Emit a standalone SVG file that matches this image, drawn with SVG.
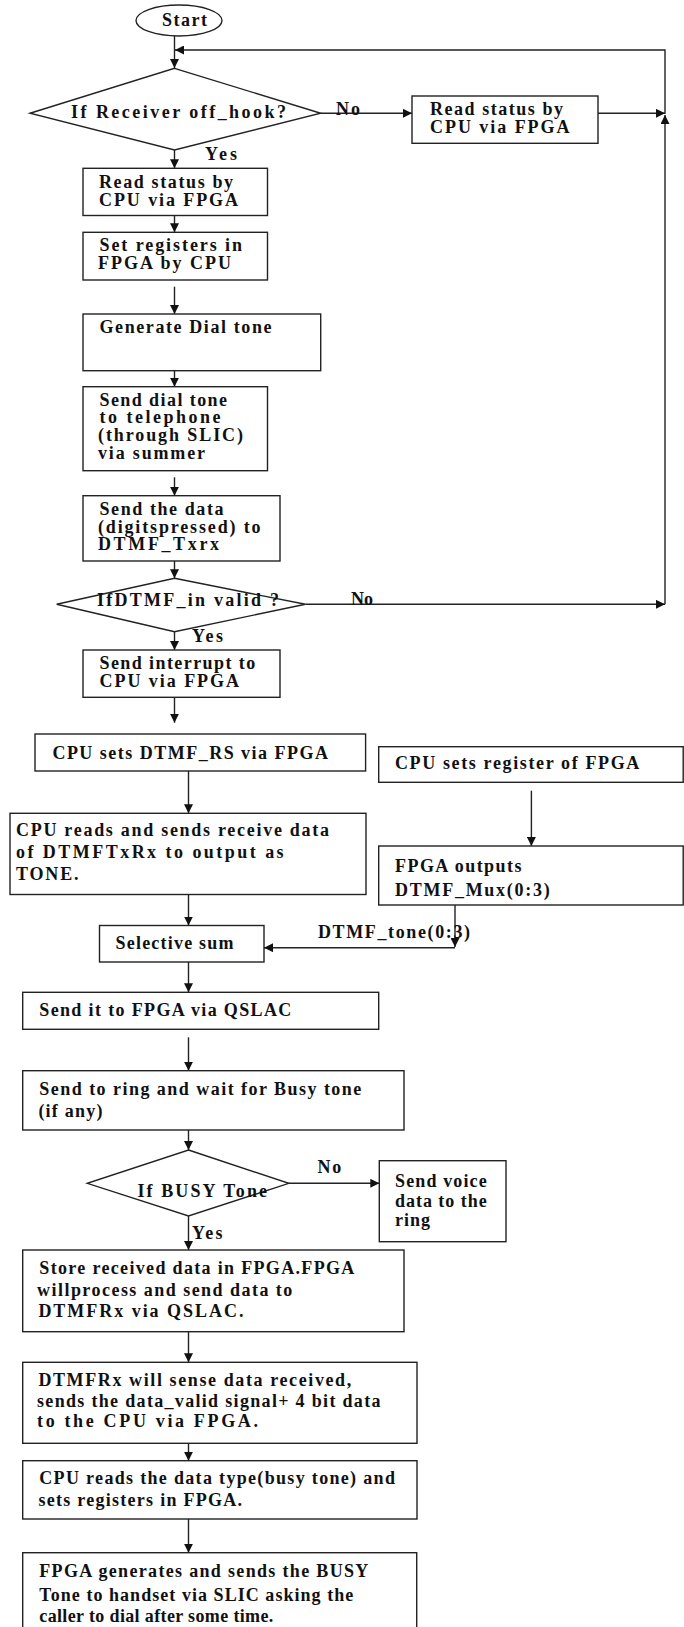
<svg xmlns="http://www.w3.org/2000/svg" width="684" height="1627" viewBox="0 0 684 1627">
  <defs>
    <style>
      .box { fill: #ffffff; stroke: #222222; stroke-width: 1.4; }
      .wire { fill: none; stroke: #222222; stroke-width: 1.4; }
      .t { font-family: "Liberation Serif", "Times New Roman", serif; font-weight: bold; font-size: 18px; fill: #111111; }
    </style>
    <marker id="arrow" markerUnits="userSpaceOnUse" markerWidth="10" markerHeight="9" refX="9" refY="4.5" orient="auto">
      <path d="M0,0 L9,4.5 L0,9 z" fill="#111111"/>
    </marker>
  </defs>
  <rect x="0" y="0" width="684" height="1627" fill="#ffffff"/>

  <!-- connectors -->
  <g id="connectors">
    <path class="wire" d="M174.5,36 V68" marker-end="url(#arrow)"/>
    <path class="wire" d="M665,114 V50 H175" marker-end="url(#arrow)"/>
    <path class="wire" d="M320.7,113.3 H412" marker-end="url(#arrow)"/>
    <path class="wire" d="M598,113.3 H665" marker-end="url(#arrow)"/>
    <path class="wire" d="M665,604.3 V115" marker-end="url(#arrow)"/>
    <path class="wire" d="M305.4,604.3 H665" marker-end="url(#arrow)"/>
    <path class="wire" d="M174.5,150 V168.3" marker-end="url(#arrow)"/>
    <path class="wire" d="M174.5,215.5 V232.3" marker-end="url(#arrow)"/>
    <path class="wire" d="M174.5,286.7 V314" marker-end="url(#arrow)"/>
    <path class="wire" d="M174.5,370.7 V386.7" marker-end="url(#arrow)"/>
    <path class="wire" d="M174.5,477.3 V495.7" marker-end="url(#arrow)"/>
    <path class="wire" d="M174.5,551 V578.3" marker-end="url(#arrow)"/>
    <path class="wire" d="M174.5,631.7 V650" marker-end="url(#arrow)"/>
    <path class="wire" d="M174.5,697.3 V722.7" marker-end="url(#arrow)"/>
    <path class="wire" d="M188.5,771 V813.3" marker-end="url(#arrow)"/>
    <path class="wire" d="M188.5,894.5 V925.5" marker-end="url(#arrow)"/>
    <path class="wire" d="M531.4,790.7 V846" marker-end="url(#arrow)"/>
    <path class="wire" d="M455,905 V947" marker-end="url(#arrow)"/>
    <path class="wire" d="M455,947.7 H264" marker-end="url(#arrow)"/>
    <path class="wire" d="M188.5,962 V992.3" marker-end="url(#arrow)"/>
    <path class="wire" d="M188.5,1037.3 V1070.7" marker-end="url(#arrow)"/>
    <path class="wire" d="M188.5,1130 V1150" marker-end="url(#arrow)"/>
    <path class="wire" d="M288.8,1183.3 H379.3" marker-end="url(#arrow)"/>
    <path class="wire" d="M188.5,1216 V1250" marker-end="url(#arrow)"/>
    <path class="wire" d="M188.5,1331.7 V1362.3" marker-end="url(#arrow)"/>
    <path class="wire" d="M188.5,1443.3 V1460.7" marker-end="url(#arrow)"/>
    <path class="wire" d="M188.5,1519 V1552.7" marker-end="url(#arrow)"/>
    <!-- branch labels -->
    <text class="t" x="336" y="114.5" textLength="24" lengthAdjust="spacing">No</text>
    <text class="t" x="205" y="160" textLength="32" lengthAdjust="spacing">Yes</text>
    <text class="t" x="351" y="605" textLength="22" lengthAdjust="spacing">No</text>
    <text class="t" x="192" y="641.7" textLength="31" lengthAdjust="spacing">Yes</text>
    <text class="t" x="318" y="938.3" textLength="152" lengthAdjust="spacing">DTMF_tone(0:3)</text>
    <text class="t" x="317.6" y="1172.7" textLength="23.6" lengthAdjust="spacing">No</text>
    <text class="t" x="192" y="1239.3" textLength="30.5" lengthAdjust="spacing">Yes</text>
  </g>

  <g id="start">
    <ellipse class="box" cx="179" cy="20.5" rx="43" ry="15.5"/>
    <text class="t" x="162" y="25.8" textLength="45" lengthAdjust="spacing">Start</text>
  </g>

  <g id="off-hook">
    <polygon class="box" points="174.5,68.3 320.7,113.3 174.5,150 30,113.3"/>
    <text class="t" x="71" y="117.8" textLength="215" lengthAdjust="spacing">If Receiver off_hook?</text>
  </g>

  <g id="idle-status">
    <rect class="box" x="412" y="96" width="186" height="47.3"/>
    <text class="t" x="430" y="115" textLength="133" lengthAdjust="spacing">Read status by</text>
    <text class="t" x="430" y="132.5" textLength="139.5" lengthAdjust="spacing">CPU via FPGA</text>
  </g>

  <g id="read-status">
    <rect class="box" x="83" y="168.3" width="184.5" height="47.2"/>
    <text class="t" x="99" y="188" textLength="134" lengthAdjust="spacing">Read status by</text>
    <text class="t" x="99" y="205.5" textLength="139" lengthAdjust="spacing">CPU via FPGA</text>
  </g>

  <g id="set-registers">
    <rect class="box" x="83" y="232.3" width="184.5" height="47.7"/>
    <text class="t" x="99.5" y="251.2" textLength="142.5" lengthAdjust="spacing">Set registers in</text>
    <text class="t" x="98" y="268.8" textLength="133" lengthAdjust="spacing">FPGA by CPU</text>
  </g>

  <g id="dial-tone">
    <rect class="box" x="83" y="314" width="237.7" height="56.7"/>
    <text class="t" x="99.5" y="332.8" textLength="172" lengthAdjust="spacing">Generate Dial tone</text>
  </g>

  <g id="send-dial-tone">
    <rect class="box" x="83" y="386.7" width="184.5" height="84"/>
    <text class="t" x="99.5" y="405.5" textLength="127.5" lengthAdjust="spacing">Send dial tone</text>
    <text class="t" x="99.5" y="423.2" textLength="121" lengthAdjust="spacing">to telephone</text>
    <text class="t" x="98" y="441.2" textLength="145" lengthAdjust="spacing">(through SLIC)</text>
    <text class="t" x="98" y="458.5" textLength="107" lengthAdjust="spacing">via summer</text>
  </g>

  <g id="send-digits">
    <rect class="box" x="83" y="495.7" width="197" height="65.3"/>
    <text class="t" x="99.5" y="514.5" textLength="124" lengthAdjust="spacing">Send the data</text>
    <text class="t" x="98" y="532.8" textLength="162.5" lengthAdjust="spacing">(digitspressed) to</text>
    <text class="t" x="98" y="549.8" textLength="121" lengthAdjust="spacing">DTMF_Txrx</text>
  </g>

  <g id="dtmf-valid">
    <polygon class="box" points="174.5,578.3 305.4,604.3 174.5,631.7 56.7,604.3"/>
    <text class="t" x="97" y="606.2" textLength="182" lengthAdjust="spacing">IfDTMF_in valid ?</text>
  </g>

  <g id="interrupt">
    <rect class="box" x="83" y="650" width="197" height="47.3"/>
    <text class="t" x="99.5" y="668.8" textLength="155.7" lengthAdjust="spacing">Send interrupt to</text>
    <text class="t" x="99.5" y="686.5" textLength="139.5" lengthAdjust="spacing">CPU via FPGA</text>
  </g>

  <g id="set-rs">
    <rect class="box" x="35" y="734" width="330.6" height="37"/>
    <text class="t" x="52.4" y="758.8" textLength="275.6" lengthAdjust="spacing">CPU sets DTMF_RS via FPGA</text>
  </g>

  <g id="read-tone">
    <rect class="box" x="10" y="813.3" width="356" height="81.2"/>
    <text class="t" x="16" y="836" textLength="313" lengthAdjust="spacing">CPU reads and sends receive data</text>
    <text class="t" x="16" y="858" textLength="267.6" lengthAdjust="spacing">of DTMFTxRx to output as</text>
    <text class="t" x="16" y="880" textLength="62.5" lengthAdjust="spacing">TONE.</text>
  </g>

  <g id="set-register">
    <rect class="box" x="378.7" y="746.7" width="304.5" height="35.6"/>
    <text class="t" x="395" y="768.8" textLength="244.3" lengthAdjust="spacing">CPU sets register of FPGA</text>
  </g>

  <g id="mux-out">
    <rect class="box" x="378.7" y="846" width="304.5" height="59"/>
    <text class="t" x="395" y="871.5" textLength="126.5" lengthAdjust="spacing">FPGA outputs</text>
    <text class="t" x="395" y="895.5" textLength="154.7" lengthAdjust="spacing">DTMF_Mux(0:3)</text>
  </g>

  <g id="selective-sum">
    <rect class="box" x="99.5" y="925.5" width="164.5" height="36.5"/>
    <text class="t" x="115.6" y="949.2" textLength="117.8" lengthAdjust="spacing">Selective sum</text>
  </g>

  <g id="to-qslac">
    <rect class="box" x="22.7" y="992.3" width="356" height="37"/>
    <text class="t" x="39.3" y="1016.2" textLength="252" lengthAdjust="spacing">Send it to FPGA via QSLAC</text>
  </g>

  <g id="ring-wait">
    <rect class="box" x="22.7" y="1070.7" width="381.3" height="59.3"/>
    <text class="t" x="39.3" y="1094.5" textLength="322" lengthAdjust="spacing">Send to ring and wait for Busy tone</text>
    <text class="t" x="38.4" y="1117.2" textLength="64" lengthAdjust="spacing">(if any)</text>
  </g>

  <g id="busy-check">
    <polygon class="box" points="188.5,1150 288.8,1183.3 188.5,1216 87.3,1183.3"/>
    <text class="t" x="137.4" y="1197.2" textLength="129.6" lengthAdjust="spacing">If BUSY Tone</text>
  </g>

  <g id="voice">
    <rect class="box" x="379.3" y="1160.7" width="126.7" height="81"/>
    <text class="t" x="395" y="1187.2" textLength="91.7" lengthAdjust="spacing">Send voice</text>
    <text class="t" x="395" y="1207.2" textLength="91.7" lengthAdjust="spacing">data to the</text>
    <text class="t" x="395" y="1225.5" textLength="35" lengthAdjust="spacing">ring</text>
  </g>

  <g id="store">
    <rect class="box" x="22.7" y="1250" width="381.3" height="81.7"/>
    <text class="t" x="39.3" y="1273.8" textLength="315" lengthAdjust="spacing">Store received data in FPGA.FPGA</text>
    <text class="t" x="37" y="1295.5" textLength="255.3" lengthAdjust="spacing">willprocess and send data to</text>
    <text class="t" x="38.4" y="1317.2" textLength="205" lengthAdjust="spacing">DTMFRx via QSLAC.</text>
  </g>

  <g id="sense">
    <rect class="box" x="22.7" y="1362.3" width="394.3" height="81"/>
    <text class="t" x="38.4" y="1385.5" textLength="312.8" lengthAdjust="spacing">DTMFRx will sense data received,</text>
    <text class="t" x="37" y="1407.2" textLength="343.5" lengthAdjust="spacing">sends the data_valid signal+ 4 bit data</text>
    <text class="t" x="37" y="1427.2" textLength="221" lengthAdjust="spacing">to the CPU via FPGA.</text>
  </g>

  <g id="data-type">
    <rect class="box" x="22.7" y="1460.7" width="394.3" height="58.3"/>
    <text class="t" x="39.3" y="1483.8" textLength="355.6" lengthAdjust="spacing">CPU reads the data type(busy tone) and</text>
    <text class="t" x="38.4" y="1505.5" textLength="203.7" lengthAdjust="spacing">sets registers in FPGA.</text>
  </g>

  <g id="busy-tone">
    <rect class="box" x="22.7" y="1552.7" width="394" height="80"/>
    <text class="t" x="39.3" y="1577.2" textLength="329" lengthAdjust="spacing">FPGA generates and sends the BUSY</text>
    <text class="t" x="39.3" y="1600.5" textLength="314" lengthAdjust="spacing">Tone to handset via SLIC asking the</text>
    <text class="t" x="39.3" y="1622.2" textLength="234" lengthAdjust="spacing">caller to dial after some time.</text>
  </g>
</svg>
